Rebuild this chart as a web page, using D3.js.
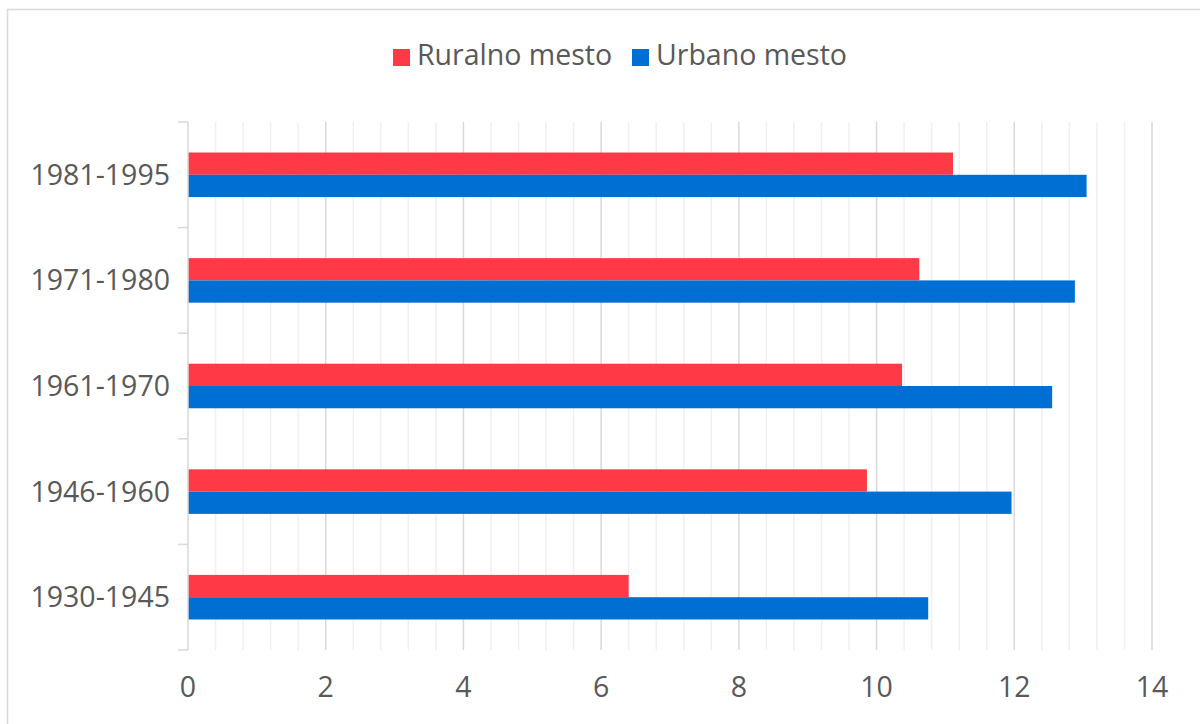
<!DOCTYPE html>
<html>
<head>
<meta charset="utf-8">
<script src="https://cdn.jsdelivr.net/npm/d3@7"></script>
<style>
  body { margin: 0; background: #fff; }
  svg { display: block; font-family: "Open Sans", "DejaVu Sans", sans-serif; }
</style>
</head>
<body>
<svg id="chart"></svg>
<script>
const categories = ["1930-1945", "1946-1960", "1961-1970", "1971-1980", "1981-1995"];
const seriesNames = ["Ruralno mesto", "Urbano mesto"];
const ruralno = [6.4, 9.86, 10.37, 10.62, 11.11];
const urbano = [10.75, 11.96, 12.55, 12.88, 13.05];
const xTicks = [0, 2, 4, 6, 8, 10, 12, 14];

const colors = { "Ruralno mesto": "#ff3a46", "Urbano mesto": "#006fd3" };
const textColor = "#595959";
const fontSize = 28.5;

const width = 1200;
const height = 724;
const margin = { top: 122, right: 48, bottom: 74, left: 188 };

const svg = d3.select("#chart").attr("width", width).attr("height", height);

// outer frame
svg.append("rect")
  .attr("x", 7.5).attr("y", 9.5)
  .attr("width", 1300).attr("height", 800)
  .attr("fill", "#fff").attr("stroke", "#d9d9d9").attr("stroke-width", 1.5);

const x = d3.scaleLinear().domain([0, 14]).range([margin.left, width - margin.right]);

// top category at the top
const y = d3.scaleBand()
  .domain(categories.slice().reverse())
  .range([margin.top, height - margin.bottom]);

const inner = d3.scaleBand()
  .domain(seriesNames)
  .range([0, y.bandwidth()])
  .paddingInner(0)
  .paddingOuter(1.37);

// minor gridlines
const minorTicks = d3.range(0, 14.001, 0.4).filter(v => Math.abs(v / 2 - Math.round(v / 2)) > 0.01);
svg.append("g")
  .selectAll("line")
  .data(minorTicks)
  .join("line")
  .attr("x1", d => x(d)).attr("x2", d => x(d))
  .attr("y1", margin.top).attr("y2", height - margin.bottom)
  .attr("stroke", "#f0f0f0").attr("stroke-width", 1.5);

// major gridlines
svg.append("g")
  .selectAll("line")
  .data(xTicks.slice(1))
  .join("line")
  .attr("x1", d => x(d)).attr("x2", d => x(d))
  .attr("y1", margin.top).attr("y2", height - margin.bottom)
  .attr("stroke", "#d9d9d9").attr("stroke-width", 1.5);

// bars
const rows = categories.map((c, i) => ({ cat: c, values: [ruralno[i], urbano[i]] }));
const groups = svg.append("g")
  .selectAll("g")
  .data(rows)
  .join("g")
  .attr("transform", d => `translate(0,${y(d.cat)})`);

groups.selectAll("rect")
  .data(d => seriesNames.map((s, j) => ({ s, v: d.values[j] })))
  .join("rect")
  .attr("x", x(0))
  .attr("y", d => inner(d.s))
  .attr("width", d => x(d.v) - x(0))
  .attr("height", inner.bandwidth())
  .attr("fill", d => colors[d.s]);

// left axis line and category ticks
svg.append("line")
  .attr("x1", x(0)).attr("x2", x(0))
  .attr("y1", margin.top).attr("y2", height - margin.bottom)
  .attr("stroke", "#d9d9d9").attr("stroke-width", 1.5);

const boundaries = categories.map(c => y(c)).concat([height - margin.bottom]);
svg.append("g")
  .selectAll("line")
  .data(boundaries)
  .join("line")
  .attr("x1", x(0) - 10).attr("x2", x(0))
  .attr("y1", d => d).attr("y2", d => d)
  .attr("stroke", "#d9d9d9").attr("stroke-width", 1.5);

// category labels
svg.append("g")
  .selectAll("text")
  .data(categories)
  .join("text")
  .attr("x", 170)
  .attr("y", d => y(d) + y.bandwidth() / 2)
  .attr("dy", "0.35em")
  .attr("text-anchor", "end")
  .attr("font-size", fontSize)
  .attr("fill", textColor)
  .text(d => d);

// x labels
svg.append("g")
  .selectAll("text")
  .data(xTicks)
  .join("text")
  .attr("x", d => x(d))
  .attr("y", 697)
  .attr("text-anchor", "middle")
  .attr("font-size", fontSize)
  .attr("fill", textColor)
  .text(d => d);

// legend
const legendItems = [
  { name: "Ruralno mesto", sx: 393, tx: 417 },
  { name: "Urbano mesto", sx: 632, tx: 656 }
];
const legend = svg.append("g");
legend.selectAll("rect")
  .data(legendItems)
  .join("rect")
  .attr("x", d => d.sx).attr("y", 49)
  .attr("width", 17).attr("height", 17)
  .attr("fill", d => colors[d.name]);
legend.selectAll("text")
  .data(legendItems)
  .join("text")
  .attr("x", d => d.tx).attr("y", 65)
  .attr("font-size", fontSize)
  .attr("fill", textColor)
  .text(d => d.name);
</script>
</body>
</html>
